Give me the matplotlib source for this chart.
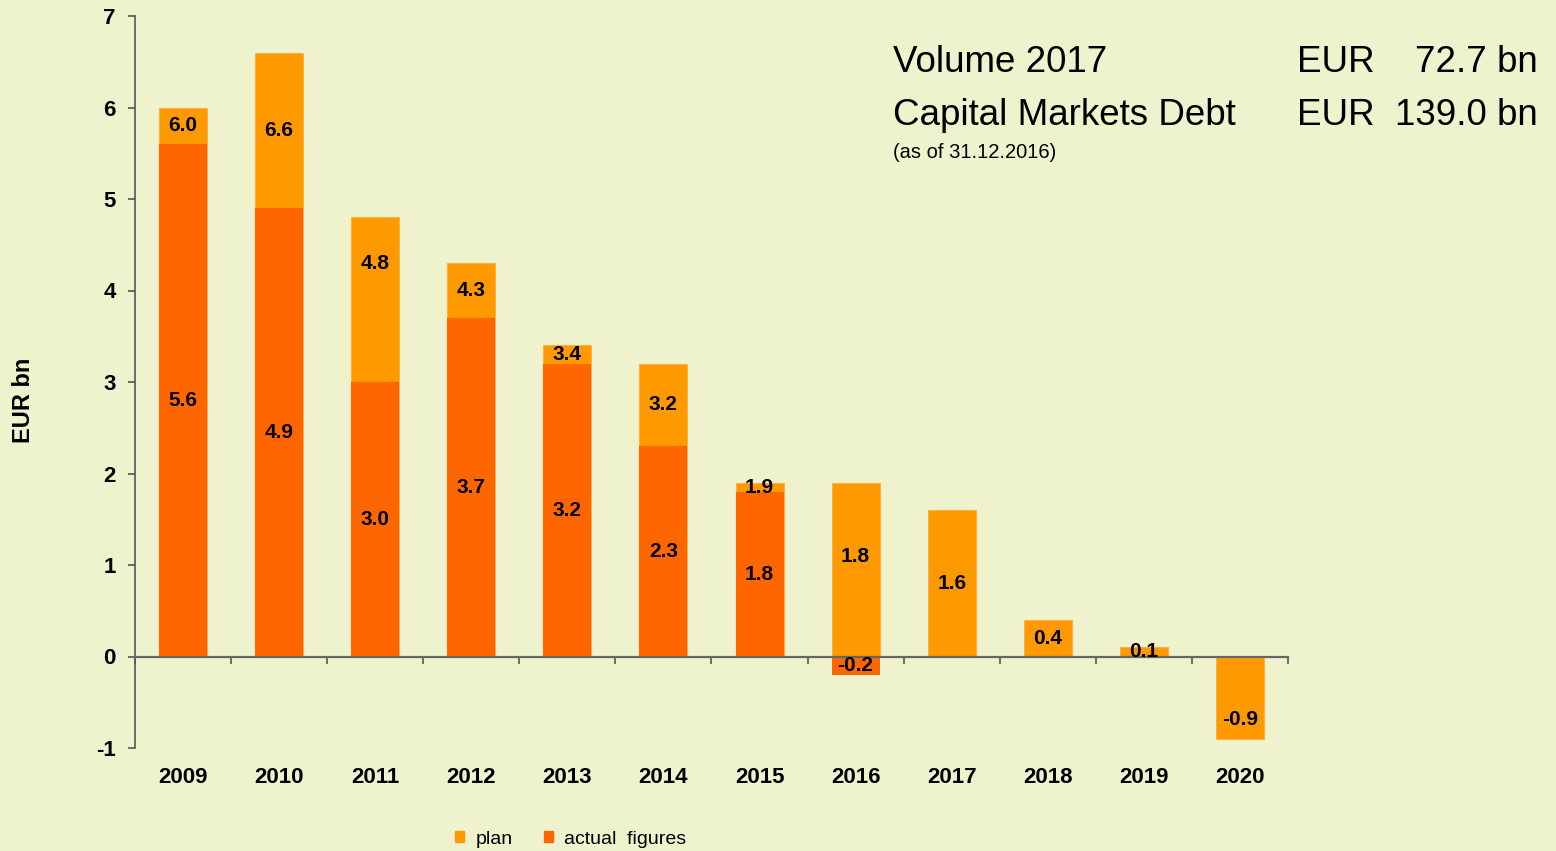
import numpy as np
from matplotlib import pyplot as plt
from matplotlib import font_manager
from matplotlib.patches import Patch

plt.rcParams['font.family'] = ['Liberation Sans', 'DejaVu Sans']
plt.rcParams['axes.unicode_minus'] = False

years = ['2009', '2010', '2011', '2012', '2013', '2014', '2015', '2016',
         '2017', '2018', '2019', '2020']
plan = [6.0, 6.6, 4.8, 4.3, 3.4, 3.2, 1.9, 1.9, 1.6, 0.4, 0.1, -0.9]
plan_labels = ['6.0', '6.6', '4.8', '4.3', '3.4', '3.2', '1.9', '1.8',
               '1.6', '0.4', '0.1', '-0.9']
actual = [5.6, 4.9, 3.0, 3.7, 3.2, 2.3, 1.8, -0.2, np.nan, np.nan, np.nan, np.nan]

BG = '#EFF3CD'
PLAN_COLOR = '#FF9900'
ACTUAL_COLOR = '#FF6600'
W, H = 1556, 851

# labels that were moved by hand in the original (data units)
label_nudge = {'2011': 0.4, '2016': 0.14, '2020': -0.24}

# condensed font for the key figures, if there is one
names = {f.name for f in font_manager.fontManager.ttflist}
if 'Liberation Sans Narrow' in names:
    head_family, head_size = 'Liberation Sans Narrow', 31
else:
    head_family, head_size = 'Liberation Sans', 26.5

fig = plt.figure(figsize=(W / 100, H / 100), dpi=100, facecolor=BG)
ax = fig.add_axes([135 / W, 1 - 748 / H, (1288 - 135) / W, (748 - 16) / H])
ax.set_facecolor(BG)

x = np.arange(len(years))
ax.bar(x, plan, width=0.5, color=PLAN_COLOR, edgecolor='#FFB040', linewidth=0.8, zorder=2)
ax.bar(x, actual, width=0.5, color=ACTUAL_COLOR, linewidth=0, zorder=3)

# value labels in the middle of each segment
for i in x:
    a = actual[i]
    p = plan[i]
    nudge = label_nudge.get(years[i], 0)
    if np.isnan(a):
        ax.text(i, p / 2 + nudge, plan_labels[i], ha='center', va='center',
                fontsize=15, fontweight='bold', zorder=5)
    else:
        base = a if a > 0 else 0
        ax.text(i, (base + p) / 2 + nudge, plan_labels[i], ha='center', va='center',
                fontsize=15, fontweight='bold', zorder=5)
        ax.text(i, a / 2, f'{a:.1f}', ha='center', va='center',
                fontsize=15, fontweight='bold', zorder=5)
    ax.text(i, -1.32, years[i], ha='center', va='center',
            fontsize=16, fontweight='bold')

ax.set_xlim(-0.5, len(years) - 0.5)
ax.set_ylim(-1, 7)
ax.set_yticks(range(-1, 8))
ax.set_xticks(np.arange(-0.5, len(years), 1.0))
ax.set_xticklabels([])

for s in ['top', 'right']:
    ax.spines[s].set_visible(False)
ax.spines['bottom'].set_position(('data', 0))
ax.spines['bottom'].set_color('#666666')
ax.spines['bottom'].set_linewidth(1.6)
ax.spines['bottom'].set_zorder(4)
ax.spines['left'].set_color('#555555')
ax.spines['left'].set_linewidth(1.2)

ax.tick_params(axis='y', direction='out', length=5, width=1.2, color='#555555',
               labelsize=16, pad=9)
ax.tick_params(axis='x', direction='out', length=5, width=1.2, color='#555555')
for lbl in ax.get_yticklabels():
    lbl.set_fontweight('bold')

fig.text(24 / W, 1 - 400 / H, 'EUR bn', rotation=90, ha='center', va='center',
         fontsize=17, fontweight='bold')

# key figures box
hd = dict(fontsize=head_size, family=head_family, va='baseline')
fig.text(893 / W, 1 - 72 / H, 'Volume 2017', **hd)
fig.text(893 / W, 1 - 125 / H, 'Capital Markets Debt', **hd)
fig.text(1297 / W, 1 - 72 / H, 'EUR', **hd)
fig.text(1297 / W, 1 - 125 / H, 'EUR', **hd)
fig.text(1538 / W, 1 - 72 / H, '72.7 bn', ha='right', **hd)
fig.text(1538 / W, 1 - 125 / H, '139.0 bn', ha='right', **hd)
fig.text(893 / W, 1 - 158 / H, '(as of 31.12.2016)', fontsize=14.5, va='baseline')

handles = [Patch(color=PLAN_COLOR), Patch(color=ACTUAL_COLOR)]
fig.legend(handles, ['plan', 'actual  figures'], loc='center',
           bbox_to_anchor=(571 / W, 1 - 839 / H), ncol=2, frameon=False,
           fontsize=14, handlelength=0.45, handleheight=0.45,
           handletextpad=0.6, columnspacing=1.6)

fig.savefig('out.png', dpi=100, facecolor=BG)
